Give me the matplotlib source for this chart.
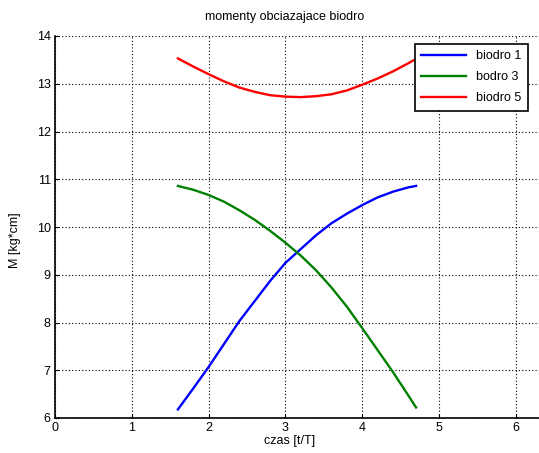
import matplotlib
matplotlib.use("Agg")
import matplotlib.pyplot as plt

# czas [t/T]
t = [1.6, 1.8, 2.0, 2.2, 2.4, 2.6, 2.8, 3.0, 3.2, 3.4, 3.6, 3.8, 4.0, 4.2, 4.4, 4.6, 4.7]

# momenty [kg*cm]
biodro1 = [6.18, 6.62, 7.07, 7.55, 8.03, 8.45, 8.87, 9.25, 9.54, 9.83, 10.08, 10.28, 10.46, 10.62, 10.74, 10.83, 10.86]
biodro3 = [10.86, 10.78, 10.67, 10.53, 10.35, 10.15, 9.92, 9.67, 9.40, 9.09, 8.73, 8.33, 7.88, 7.42, 6.96, 6.47, 6.22]
biodro5 = [13.53, 13.36, 13.20, 13.05, 12.92, 12.83, 12.76, 12.73, 12.72, 12.74, 12.78, 12.86, 12.98, 13.11, 13.26, 13.43, 13.52]

labels = ["biodro 1", "bodro 3", "biodro 5"]
xticks = [0, 1, 2, 3, 4, 5, 6]
yticks = [6, 7, 8, 9, 10, 11, 12, 13, 14]

plt.rcParams['font.family'] = ['Liberation Sans', 'DejaVu Sans']

fig = plt.figure(figsize=(5.39, 4.53), dpi=100)
ax = fig.add_axes([55 / 539, 35 / 453, 1 - 55 / 539, (418 - 36) / 453])

ax.plot(t, biodro1, color="blue", lw=1.7, label=labels[0])
ax.plot(t, biodro3, color="green", lw=1.7, label=labels[1])
ax.plot(t, biodro5, color="red", lw=1.7, label=labels[2])

ax.set_xlim(0, 6.3)
ax.set_ylim(6, 14)
ax.set_xticks(xticks)
ax.set_yticks(yticks)
ax.tick_params(direction="in", length=3, labelsize=9, width=0.8, pad=3)
ax.grid(True, color="black", linestyle=(0, (1, 2)), linewidth=0.8)
ax.spines["top"].set_visible(False)
ax.spines["right"].set_visible(False)
ax.spines["left"].set_linewidth(1.2)
ax.spines["bottom"].set_linewidth(1.2)

fig.text(285 / 539, 1 - 17 / 453, "momenty obciazajace biodro", ha="center", va="center", fontsize=9)
fig.text(290 / 539, 1 - 441 / 453, "czas [t/T]", ha="center", va="center", fontsize=9)
fig.text(15 / 539, 1 - 240 / 453, "M [kg*cm]", ha="center", va="center", rotation=90, fontsize=9)

leg = ax.legend(loc="upper right", bbox_to_anchor=(528 / 539, 1 - 44 / 453),
                bbox_transform=fig.transFigure, fontsize=9, fancybox=False,
                framealpha=1, edgecolor="black", handlelength=3.6,
                borderaxespad=0, labelspacing=0.72, borderpad=0.5)
leg.get_frame().set_linewidth(1.2)

fig.savefig("out.png", dpi=100)
